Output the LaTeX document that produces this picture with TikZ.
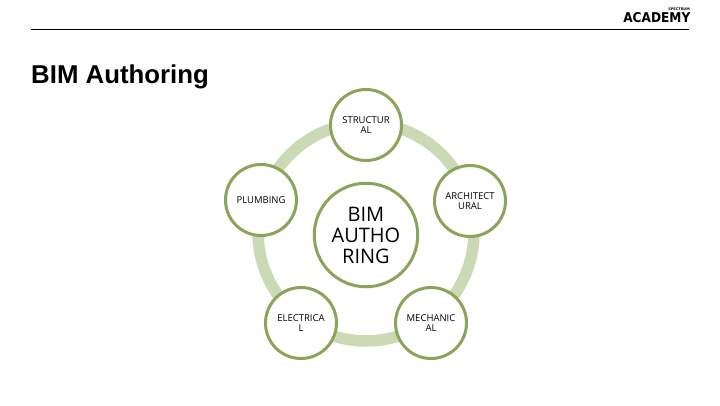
\documentclass[tikz,border=0pt]{standalone}
\usepackage{fontspec}
\setmainfont{Open Sans}
\newfontfamily\titlefont{Liberation Sans}
\newfontfamily\logofont{DejaVu Sans}
\definecolor{ringc}{HTML}{CBD9B5}
\definecolor{edgec}{HTML}{8CA35A}
\tikzset{
  x=1pt,y=-1pt,
  sat/.style={circle,draw=edgec,line width=3pt,fill=white,minimum size=71pt,inner sep=0pt,align=center,font=\fontsize{9.5}{10.5}\selectfont,text=black},
  hub/.style={circle,draw=edgec,line width=3pt,fill=white,minimum size=103.5pt,inner sep=0pt,align=center,font=\fontsize{20}{21}\selectfont,text=black},
}
\begin{document}
\begin{tikzpicture}
\useasboundingbox (0,0) rectangle (720,405);
\fill[white] (0,0) rectangle (720,405);
\coordinate (rl) at (31,29.5);
\coordinate (rr) at (689,29.5);
\draw[line width=0.8pt,black] (rl) -- (rr);
\node[anchor=west,inner sep=0pt,font=\titlefont\bfseries\fontsize{25.8}{28}\selectfont] (title) at (31,76.5) {BIM Authoring};
\node[anchor=east,inner sep=0pt,xscale=0.9,font=\logofont\bfseries\fontsize{13.5}{14}\selectfont] (logo) at (690.5,18) {ACADEMY};
\node[anchor=east,inner sep=0pt,font=\logofont\bfseries\fontsize{3.5}{4}\selectfont] (logosmall) at (690,9.5) {SPECTRUM};
\coordinate (ringc) at (366,232);
\draw[ringc,line width=11.5pt] (ringc) ellipse[x radius=108,y radius=109];
\node[hub] (hub) at (366,235) {BIM\\AUTHO\\RING};
\node[sat] (s) at (366,125) {STRUCTUR\\AL};
\node[sat] (a) at (470,201) {ARCHITECT\\URAL};
\node[sat] (m) at (431,323) {MECHANIC\\AL};
\node[sat] (e) at (301,323) {ELECTRICA\\L};
\node[sat] (p) at (261,200) {PLUMBING};
\end{tikzpicture}
\end{document}
